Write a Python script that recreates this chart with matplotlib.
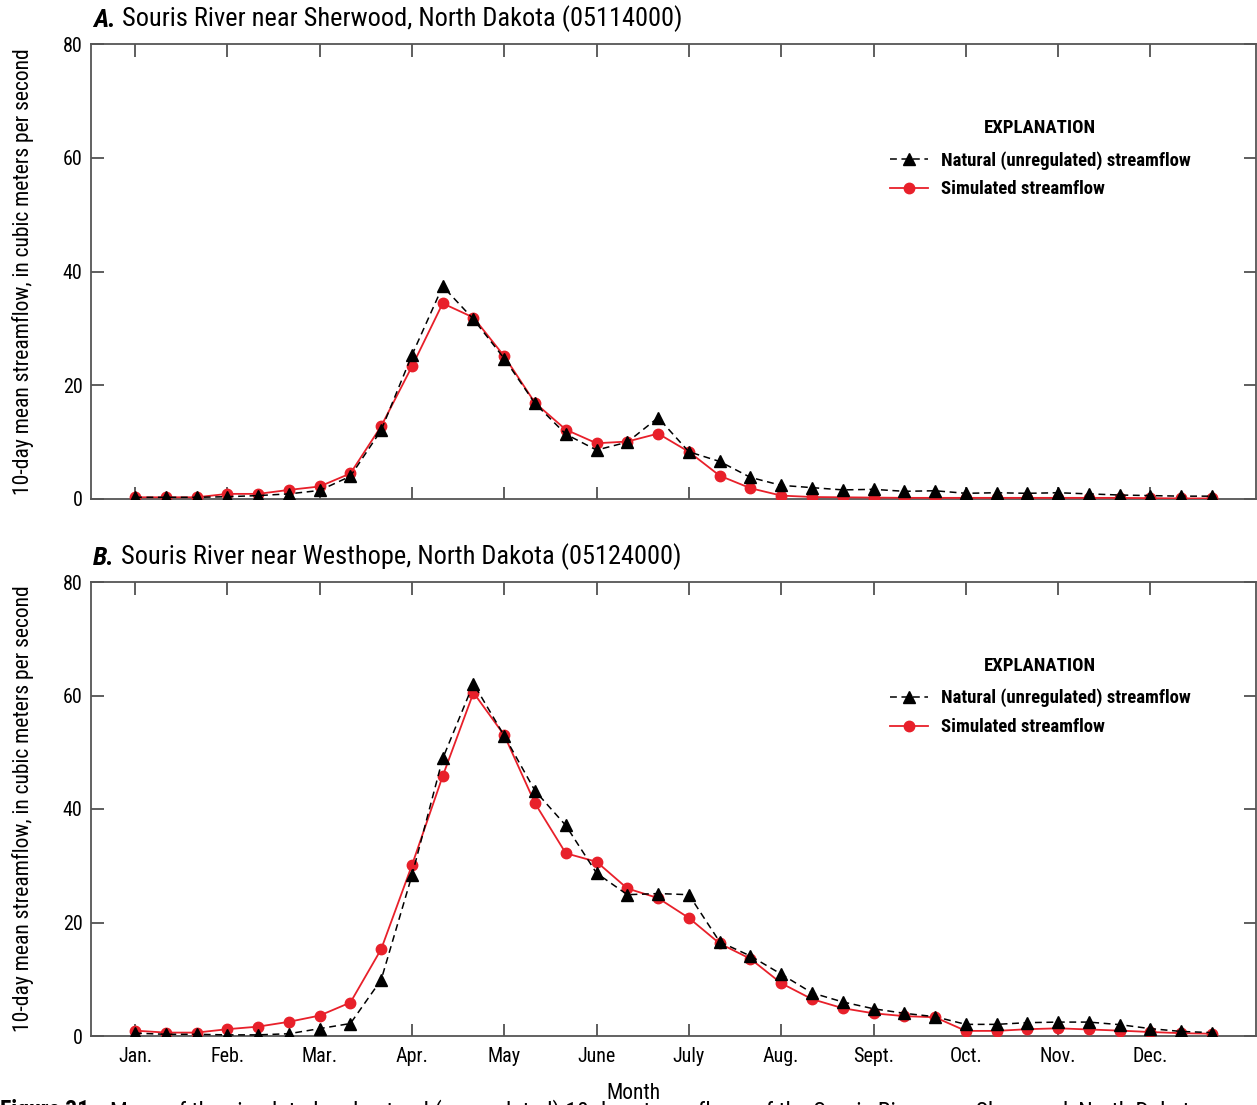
import matplotlib
matplotlib.use("Agg")
import matplotlib.pyplot as plt
from matplotlib import font_manager as fm
import numpy as np

# pick a condensed sans face, close to the original Univers Condensed
installed = fm.fontManager.ttflist
names = {f.name for f in installed}
if 'Liberation Sans Narrow' in names:
    plt.rcParams['font.family'] = ['Liberation Sans Narrow', 'DejaVu Sans']
elif 'Roboto Condensed' in names:
    plt.rcParams['font.family'] = ['Roboto Condensed', 'DejaVu Sans']
elif any(f.name == 'DejaVu Sans' and 'condensed' in str(f.stretch) for f in installed):
    plt.rcParams['font.family'] = ['DejaVu Sans']
    plt.rcParams['font.stretch'] = 'condensed'
else:
    plt.rcParams['font.family'] = ['Liberation Sans', 'DejaVu Sans']

# 10-day periods through the year (36 per year)
periods = np.arange(36)
months = ['Jan.', 'Feb.', 'Mar.', 'Apr.', 'May', 'June', 'July', 'Aug.',
          'Sept.', 'Oct.', 'Nov.', 'Dec.']

# A. Souris River near Sherwood
sherwood_natural = [0.3, 0.3, 0.3, 0.4, 0.6, 0.9, 1.5, 4.0, 12.1, 25.3,
                    37.4, 31.6, 24.7, 16.8, 11.4, 8.6, 10.0, 14.3, 8.3, 6.6,
                    3.8, 2.4, 2.0, 1.6, 1.7, 1.35, 1.45, 1.0, 1.1, 1.0,
                    1.1, 0.9, 0.7, 0.6, 0.5, 0.5]
sherwood_simulated = [0.3, 0.3, 0.3, 0.9, 0.9, 1.6, 2.2, 4.5, 12.8, 23.3,
                      34.4, 31.9, 25.1, 16.9, 12.2, 9.8, 10.1, 11.5, 8.3, 4.1,
                      1.9, 0.6, 0.35, 0.3, 0.25, 0.2, 0.2, 0.2, 0.2, 0.2,
                      0.2, 0.2, 0.2, 0.15, 0.1, 0.1]

# B. Souris River near Westhope
westhope_natural = [0.5, 0.3, 0.3, 0.2, 0.2, 0.4, 1.3, 2.2, 9.9, 28.3,
                    48.9, 62.1, 52.9, 43.2, 37.1, 28.7, 24.9, 25.1, 24.9, 16.6,
                    14.1, 10.9, 7.6, 6.0, 4.8, 4.0, 3.4, 2.05, 2.05, 2.35,
                    2.45, 2.45, 2.0, 1.3, 0.8, 0.6]
westhope_simulated = [0.95, 0.6, 0.6, 1.2, 1.65, 2.5, 3.6, 5.9, 15.3, 30.1,
                      45.8, 60.5, 53.0, 41.0, 32.2, 30.7, 26.0, 24.3, 20.8, 16.3,
                      13.6, 9.3, 6.5, 4.9, 4.0, 3.5, 3.3, 0.9, 0.9, 1.2,
                      1.35, 1.15, 0.95, 0.7, 0.5, 0.4]

W, H = 1257, 1105
fig = plt.figure(figsize=(W / 100, H / 100), dpi=100)


def px_axes(left, top, right, bottom):
    return fig.add_axes([left / W, 1 - bottom / H, (right - left) / W, (bottom - top) / H])


panels = [
    (px_axes(91, 44, 1256, 499), 'A.', ' Souris River near Sherwood, North Dakota (05114000)',
     sherwood_natural, sherwood_simulated, 44),
    (px_axes(91, 582, 1256, 1036), 'B.', ' Souris River near Westhope, North Dakota (05124000)',
     westhope_natural, westhope_simulated, 582),
]

for i, (ax, letter, name, natural, simulated, top) in enumerate(panels):
    ax.plot(periods, simulated, color='#e8202a', lw=1.3, marker='o', ms=7.5,
            mec='#e8202a', mfc='#e8202a', zorder=3, label='Simulated streamflow')
    ax.plot(periods, natural, color='black', lw=1.1, dashes=(4.5, 3), marker='^', ms=8.5,
            mec='black', mfc='black', zorder=4, label='Natural (unregulated) streamflow')

    ax.set_xlim(-1.43, 36.43)
    ax.set_ylim(0, 80)
    ax.set_yticks([0, 20, 40, 60, 80])
    ax.set_xticks(periods[::3])
    if i == 1:
        ax.set_xticklabels(months)
        ax.set_xlabel('Month', fontsize=15.5)
        ax.xaxis.set_label_coords(0.466, -0.104)
    else:
        ax.set_xticklabels([])
    ax.tick_params(direction='in', length=9, width=1.1, color='#333333',
                   top=True, right=True, labelsize=14.5, pad=6)
    ax.tick_params(axis='x', pad=8)
    for sp in ax.spines.values():
        sp.set_color('#555555')
        sp.set_linewidth(1.3)

    ax.set_ylabel('10-day mean streamflow, in cubic meters per second', fontsize=15.5)
    ax.yaxis.set_label_coords(-0.049, 0.5)

    handles, labels = ax.get_legend_handles_labels()
    leg = ax.legend(handles[::-1], labels[::-1], title='EXPLANATION', loc='upper left',
                    bbox_to_anchor=(0.678, 0.856), frameon=False, borderpad=0,
                    handlelength=2.0, handletextpad=0.7, labelspacing=0.58,
                    prop={'weight': 'bold', 'size': 13.5},
                    title_fontproperties={'weight': 'bold', 'size': 13.5})
    leg._legend_box.sep = 10

    t1 = fig.text(93 / W, 1 - (top - 17) / H, letter, fontsize=19, fontweight='bold',
                  fontstyle='italic', va='baseline', ha='left')
    ax.annotate(name, xy=(1, 0), xycoords=t1, fontsize=19, va='bottom', ha='left')

# caption, cut off by the bottom edge of the image
fig.text(0, 1 - 1099 / H, 'Figure 31.', fontsize=17, fontweight='bold', va='top', ha='left')
fig.text(110 / W, 1 - 1099 / H,
         'Mean of the simulated and natural (unregulated) 10-day streamflows of the Souris River near Sherwood, North Dakota',
         fontsize=17, va='top', ha='left')

fig.savefig('out.png', dpi=100)
